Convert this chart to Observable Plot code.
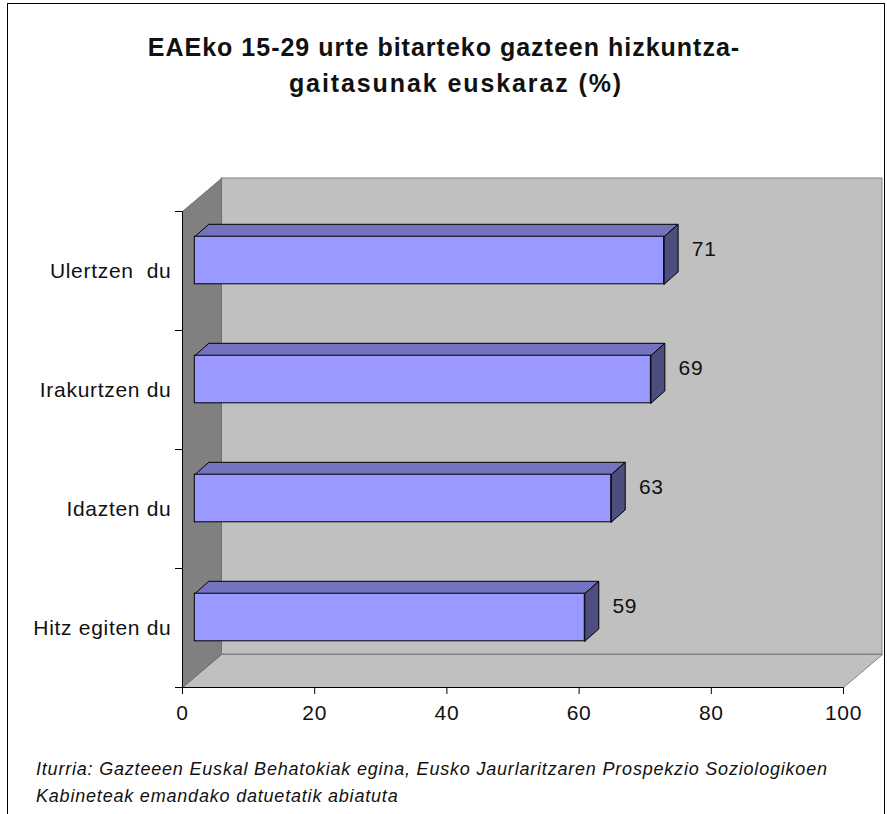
<!DOCTYPE html>
<html>
<head>
<meta charset="utf-8">
<script src="https://cdn.jsdelivr.net/npm/d3@7"></script>
<script src="https://cdn.jsdelivr.net/npm/@observablehq/plot@0.6"></script>
<style>
html, body { margin: 0; padding: 0; background: #fff; }
body { width: 887px; height: 814px; position: relative; overflow: hidden;
       font-family: "Liberation Sans", Arial, sans-serif; color: #000; }
#frame { position: absolute; left: 7px; top: 3px; width: 878px; height: 840px;
         border: 1px solid #000; box-sizing: border-box; }
.t { position: absolute; font-weight: bold; font-size: 25px; line-height: 25px;
     letter-spacing: 1px; white-space: nowrap; width: 800px; text-align: center; color: #111; }
#chart { position: absolute; left: 0; top: 120px; }
#cap { position: absolute; left: 36px; top: 756px; font-style: italic; font-size: 18px;
       line-height: 27.3px; letter-spacing: 0.8px; white-space: nowrap; color: #111; }
</style>
</head>
<body>
<div id="frame"></div>
<div class="t" style="left:44px;top:35px">EAEko 15-29 urte bitarteko gazteen hizkuntza-</div>
<div class="t" style="left:56px;top:71px;letter-spacing:1.9px">gaitasunak euskaraz (%)</div>
<div id="chart"></div>
<div id="cap">Iturria: Gazteeen Euskal Behatokiak egina, Eusko Jaurlaritzaren Prospekzio Soziologikoen<br>Kabineteak emandako datuetatik abiatuta</div>
<script>
// ---- data (bottom row first) ----
const categories = ["Hitz egiten du", "Idazten du", "Irakurtzen du", "Ulertzen  du"];
const values = [59, 63, 69, 71];
const xTicks = [0, 20, 40, 60, 80, 100];

// ---- layout ----
const W = 887, H = 620, mL = 182, mR = 44, mT = 91, mB = 53;
const xDomain = [0, 100];
const yDomain = [0, categories.length];
const kx = (W - mL - mR) / (xDomain[1] - xDomain[0]);   // px per x unit
const ky = (H - mT - mB) / (yDomain[1] - yDomain[0]);   // px per row
const wallDX = 39, wallDY = 33;                         // depth of the 3D box, px
const wx = wallDX / kx, wy = wallDY / ky;
const barDX = 12.3, barDY = 10.5;                       // bar front offset, px
const bx = 14 / kx, by = 12.4 / ky;                     // bar depth in data units
const half = 0.2;                                       // half bar thickness (rows)

const rows = categories.map((cat, i) => ({cat, value: values[i], y: i + 0.5}));

const poly = (key, pts) => pts.concat([pts[0]]).map(([x, y]) => ({key, x, y}));

const [x0, x1] = xDomain, [y0, y1] = yDomain;
const backWall = [{x1: x0, x2: x1, y1: y0, y2: y1}];
const floor = poly("floor", [[x0, y0], [x1, y0], [x1 + wx, y0 + wy], [x0 + wx, y0 + wy]]);
const leftWall = poly("left", [[x0, y0], [x0, y1], [x0 + wx, y1 + wy], [x0 + wx, y0 + wy]]);

const topFaces = rows.flatMap(d => {
  const yt = d.y + half;
  return poly(d.cat, [[x0, yt], [d.value, yt], [d.value + bx, yt + by], [x0 + bx, yt + by]]);
});
const sideFaces = rows.flatMap(d => {
  const yb = d.y - half, yt = d.y + half, v = d.value;
  return poly(d.cat, [[v, yb], [v, yt], [v + bx, yt + by], [v + bx, yb + by]]);
});

const plot = Plot.plot({
  width: W, height: H,
  marginLeft: mL, marginRight: mR, marginTop: mT, marginBottom: mB,
  x: {domain: xDomain},
  y: {domain: yDomain},
  style: "font-family: 'Liberation Sans', Arial, sans-serif; font-size: 21px; letter-spacing: 0.7px; white-space: pre; color: #111; background: none; overflow: visible;",
  marks: [
    Plot.rect(backWall, {x1: "x1", x2: "x2", y1: "y1", y2: "y2", dx: wallDX, dy: -wallDY,
      fill: "#c0c0c0", stroke: "#808080", strokeWidth: 1}),
    Plot.line(floor, {x: "x", y: "y", z: "key", fill: "#c0c0c0", stroke: "#808080",
      strokeWidth: 1, curve: "linear"}),
    Plot.line(leftWall, {x: "x", y: "y", z: "key", fill: "#808080", stroke: "#707070",
      strokeWidth: 1, curve: "linear"}),
    Plot.ruleX([x0], {stroke: "#000", strokeWidth: 1}),
    Plot.ruleY([y0], {stroke: "#000", strokeWidth: 1}),
    Plot.axisX({ticks: xTicks, tickSize: 7, tickPadding: 11, fontSize: 21, stroke: "#000", tickFormat: d => String(d)}),
    Plot.axisY({ticks: d3.range(y0, y1 + 1), tickSize: 7, tickFormat: () => "", stroke: "#000"}),
    Plot.axisY({ticks: rows.map(d => d.y), tickSize: 0, tickPadding: 11, fontSize: 21,
      tickFormat: t => categories[Math.floor(t)]}),
    // 3D bars
    Plot.line(topFaces, {x: "x", y: "y", z: "key", fill: "#7373bf", stroke: "#000",
      strokeWidth: 1, curve: "linear", dx: barDX, dy: -barDY}),
    Plot.line(sideFaces, {x: "x", y: "y", z: "key", fill: "#4d4d80", stroke: "#000",
      strokeWidth: 1, curve: "linear", dx: barDX, dy: -barDY}),
    Plot.rect(rows, {x1: x0, x2: "value", y1: d => d.y - half, y2: d => d.y + half,
      fill: "#9999ff", stroke: "#000", strokeWidth: 1, dx: barDX, dy: -barDY}),
    Plot.text(rows, {x: "value", y: "y", text: d => String(d.value), dx: 40, dy: -21.5,
      textAnchor: "start", fontSize: 21, fill: "#111"})
  ]
});
document.getElementById("chart").appendChild(plot);
</script>
</body>
</html>
